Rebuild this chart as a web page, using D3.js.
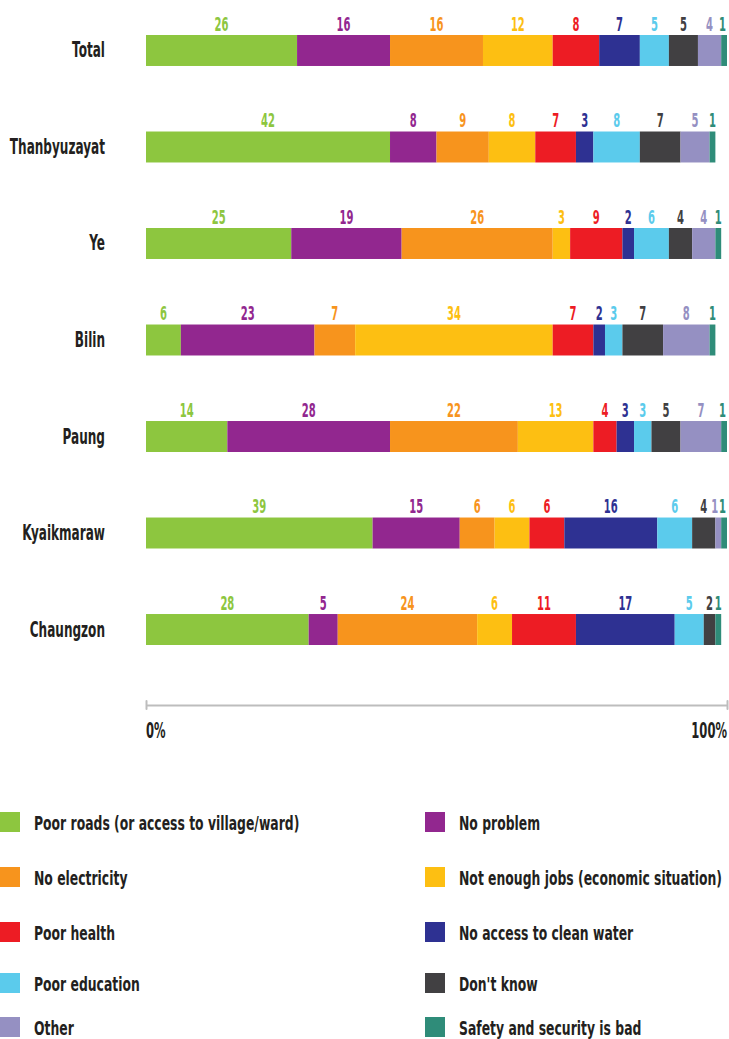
<!DOCTYPE html>
<html>
<head>
<meta charset="utf-8">
<script src="https://cdn.jsdelivr.net/npm/d3@7"></script>
<style>
  html, body { margin: 0; padding: 0; background: #fff; }
  svg { display: block; }
  text { font-family: "DejaVu Sans", sans-serif; font-weight: bold; }
</style>
</head>
<body>
<svg id="chart" width="729" height="1039"></svg>
<script>
// Townships (rows) and the problem categories (stack order)
const townships = ["Total", "Thanbyuzayat", "Ye", "Bilin", "Paung", "Kyaikmaraw", "Chaungzon"];
const problems = [
  "Poor roads (or access to village/ward)", "No problem", "No electricity",
  "Not enough jobs (economic situation)", "Poor health", "No access to clean water",
  "Poor education", "Don't know", "Other", "Safety and security is bad"
];
const problemColors = ["#8dc63f", "#92278f", "#f7941d", "#fdbf12", "#ed1c24",
                       "#2e3192", "#5bcbec", "#414042", "#9590c2", "#2f8c79"];

// Share of respondents (%) per township, one array per problem
const poorRoads     = [26, 42, 25, 6, 14, 39, 28];
const noProblem     = [16, 8, 19, 23, 28, 15, 5];
const noElectricity = [16, 9, 26, 7, 22, 6, 24];
const notEnoughJobs = [12, 8, 3, 34, 13, 6, 6];
const poorHealth    = [8, 7, 9, 7, 4, 6, 11];
const noCleanWater  = [7, 3, 2, 2, 3, 16, 17];
const poorEducation = [5, 8, 6, 3, 3, 6, 5];
const dontKnow      = [5, 7, 4, 7, 5, 4, 2];
const other         = [4, 5, 4, 8, 7, 1, 0];
const safetyBad     = [1, 1, 1, 1, 1, 1, 1];
const seriesValues = [poorRoads, noProblem, noElectricity, notEnoughJobs, poorHealth,
                      noCleanWater, poorEducation, dontKnow, other, safetyBad];
const axisTickLabels = ["0%", "100%"];

// Build the table for d3.stack
const table = townships.map((t, i) => {
  const row = { township: t };
  problems.forEach((p, j) => { row[p] = seriesValues[j][i]; });
  return row;
});
const stacked = d3.stack().keys(problems)(table);

const svg = d3.select("#chart");
const W = 729;
const x = d3.scaleLinear().domain([0, 100]).range([146, 727]);
const y = d3.scaleBand().domain(townships).range([35, 645]).paddingInner(0.679).paddingOuter(0);
const color = d3.scaleOrdinal().domain(problems).range(problemColors);

// Place text at (px, py) and squeeze it horizontally to read like a condensed face
function place(sel, px, py, f) {
  sel.attr("x", 0).attr("y", 0)
     .attr("transform", (d, i) => `translate(${px(d, i)},${py(d, i)}) scale(${f},1)`);
}

// Segments
const layers = svg.append("g").selectAll("g").data(stacked).join("g")
  .attr("fill", d => color(d.key));
layers.selectAll("rect").data(d => d.filter(s => s[1] - s[0] > 0)).join("rect")
  .attr("x", d => x(d[0]))
  .attr("width", d => x(d[1]) - x(d[0]))
  .attr("y", d => y(d.data.township))
  .attr("height", y.bandwidth());

// Value labels above each segment; centres pushed apart at the crowded right end
const labelItems = [];
stacked.forEach(layer => {
  layer.forEach(s => {
    const v = s[1] - s[0];
    if (v > 0) labelItems.push({ key: layer.key, township: s.data.township, value: v,
                                 cx: (x(s[0]) + x(s[1])) / 2 });
  });
});
townships.forEach(t => {
  const row = labelItems.filter(d => d.township === t).sort((a, b) => a.cx - b.cx);
  let limit = W - 3;
  for (let i = row.length - 1; i >= 0; i--) {
    const half = String(row[i].value).length * 3.6;
    row[i].cx = Math.min(row[i].cx, limit - half);
    limit = row[i].cx - half - 0.5;
  }
});
svg.append("g").selectAll("text").data(labelItems).join("text")
  .attr("text-anchor", "middle")
  .attr("font-size", 20)
  .attr("fill", d => color(d.key))
  .text(d => d.value)
  .call(place, d => d.cx, d => y(d.township) - 4.5, 0.5);

// Township labels
svg.append("g").selectAll("text").data(townships).join("text")
  .attr("text-anchor", "end")
  .attr("font-size", 21)
  .attr("fill", "#231f20")
  .text(d => d)
  .call(place, () => 105, d => y(d) + y.bandwidth() / 2 + 7, 0.575);

// Bottom 0–100% axis
const axisY = 705;
const axis = svg.append("g").attr("transform", `translate(0,${axisY})`);
axis.call(d3.axisBottom(x).tickValues([0, 100]).tickSize(0).tickFormat(() => ""));
axis.select(".domain").attr("stroke", "#bdbdbd").attr("stroke-width", 2.2);
axis.selectAll(".tick").append("line")
  .attr("y1", -4).attr("y2", 4).attr("stroke", "#bdbdbd").attr("stroke-width", 2)
  .attr("stroke-linecap", "round");
svg.append("g").selectAll("text").data(axisTickLabels).join("text")
  .attr("text-anchor", (d, i) => i === 0 ? "start" : "end")
  .attr("font-size", 21)
  .attr("fill", "#231f20")
  .text(d => d)
  .call(place, (d, i) => x(i === 0 ? 0 : 100), () => axisY + 33, 0.55);

// Legend, two columns
const legendRowY = [822, 877, 932, 983, 1027];
const legendColX = [0, 425];
const legend = svg.append("g").selectAll("g").data(problems).join("g")
  .attr("transform", (d, i) => `translate(${legendColX[i % 2]},${legendRowY[Math.floor(i / 2)]})`);
legend.append("rect")
  .attr("x", 0).attr("y", -10).attr("width", 20).attr("height", 20)
  .attr("fill", d => color(d));
legend.append("text")
  .attr("font-size", 20)
  .attr("fill", "#231f20")
  .text(d => d)
  .call(place, () => 34, () => 8, 0.62);
</script>
</body>
</html>
